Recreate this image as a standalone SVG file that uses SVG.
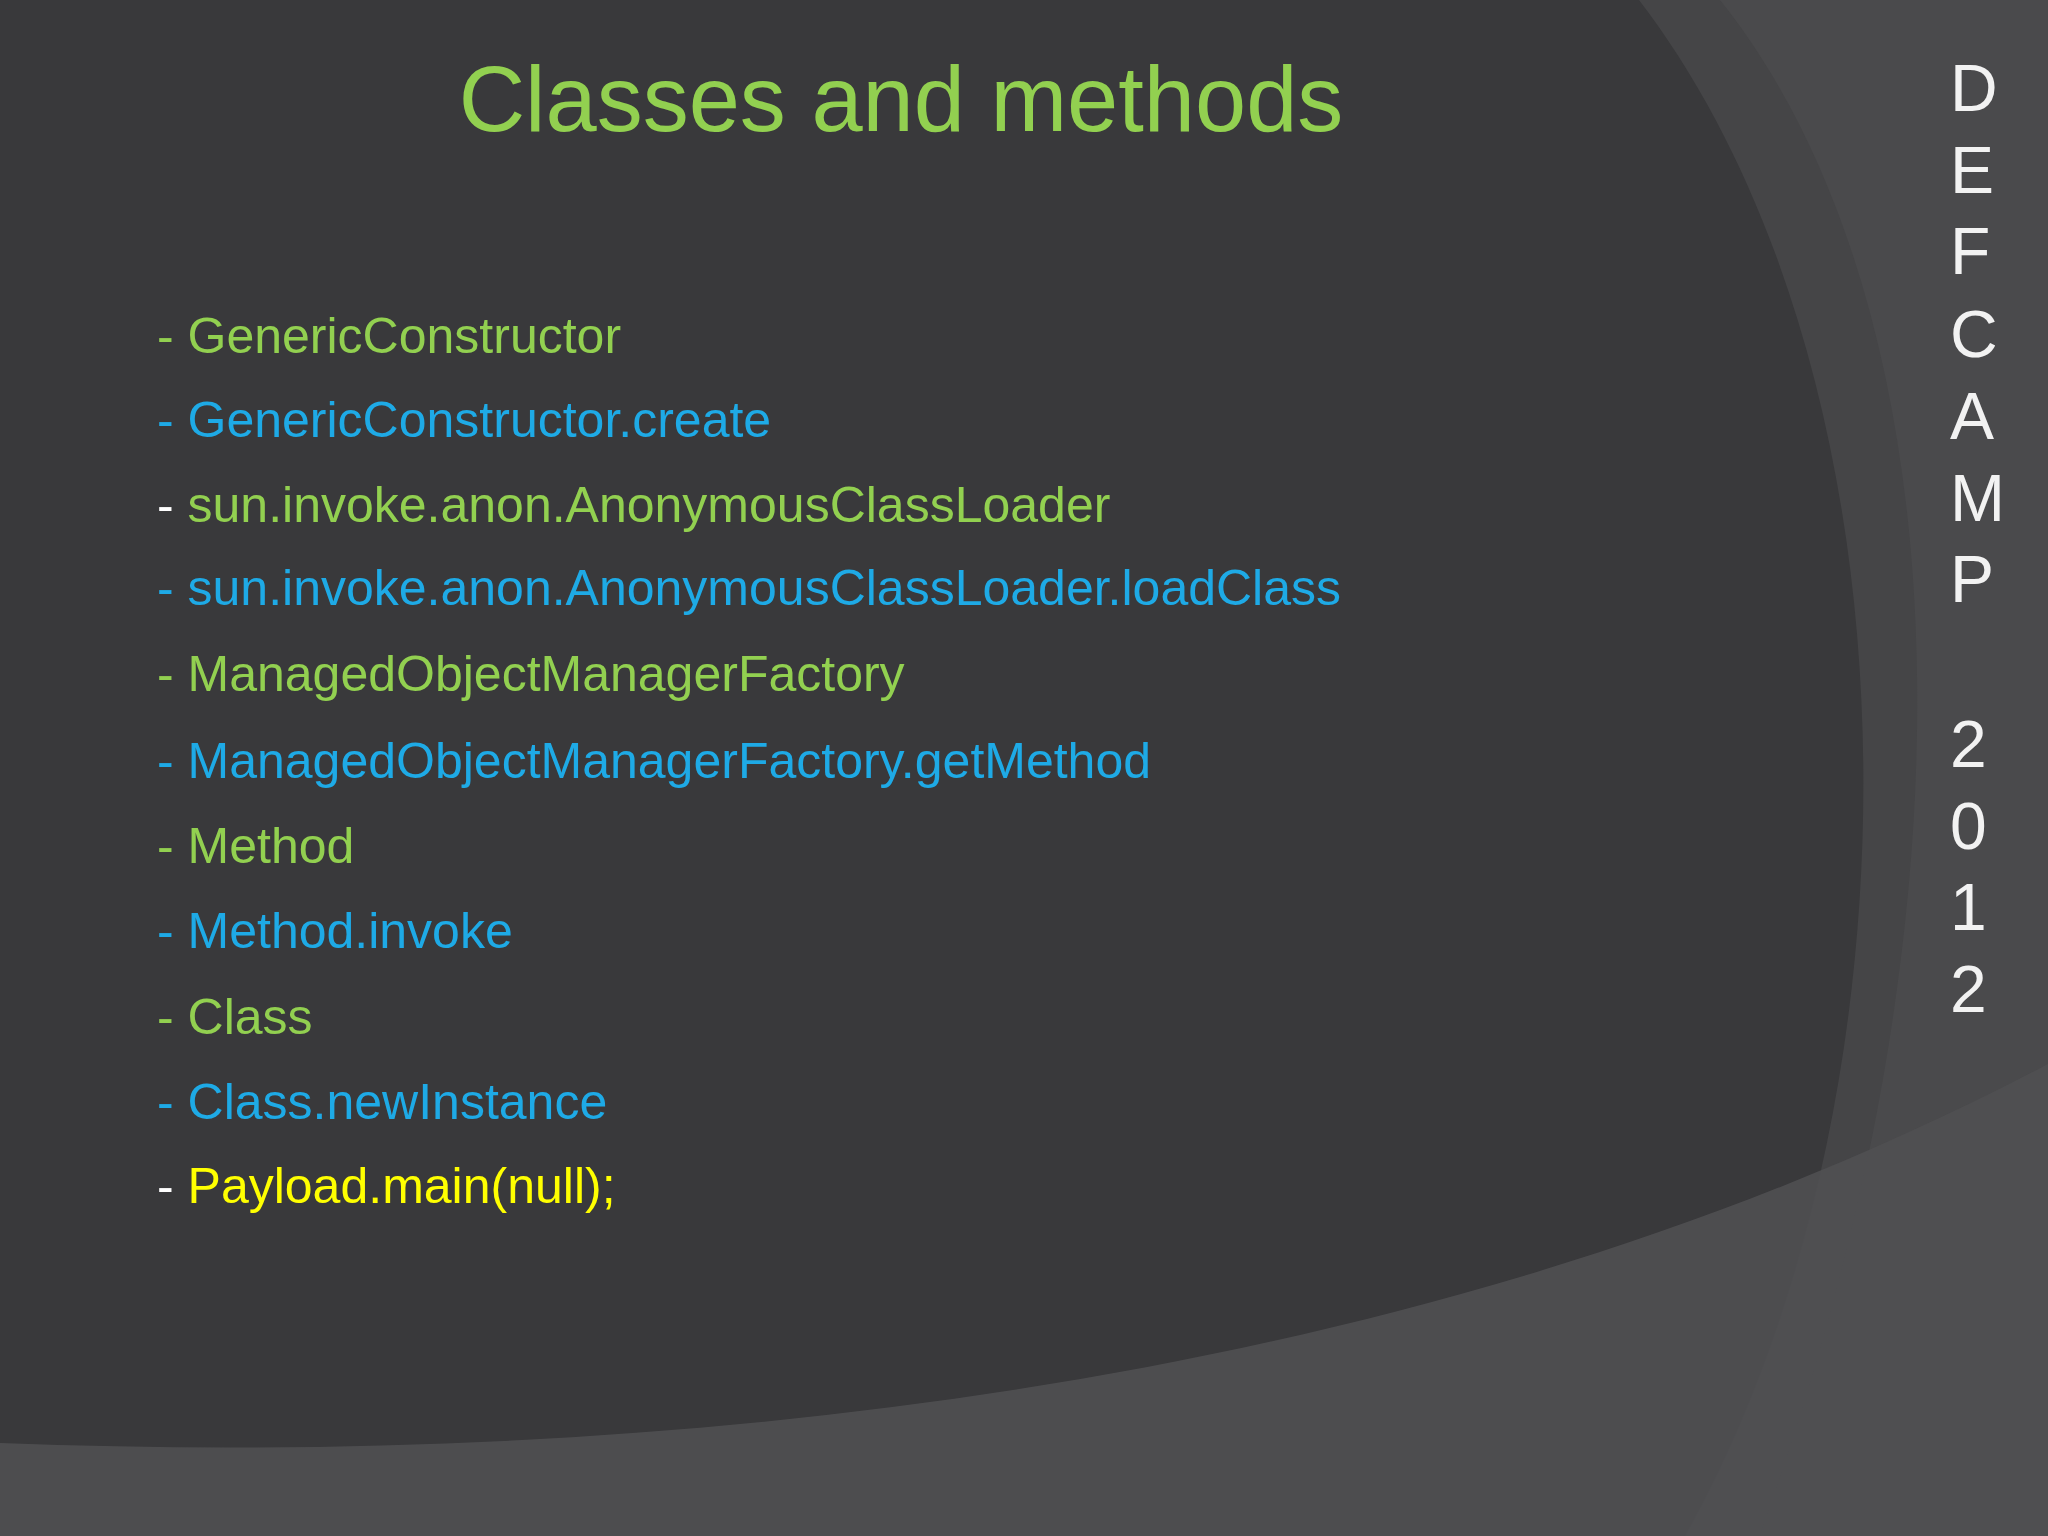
<svg xmlns="http://www.w3.org/2000/svg" width="2048" height="1536" viewBox="0 0 2048 1536">
<style>
.t{font-family:"Liberation Sans",Arial,sans-serif;font-size:50px}
.g{fill:#92d050}.b{fill:#1eaae6}.y{fill:#ffff00}.w{fill:#ffffff}
.r{font-family:"Liberation Sans",Arial,sans-serif;font-size:66px;fill:#f2f2f2}
</style>
<rect width="2048" height="1536" fill="#39393b"/>
<path d="M1639,0 C1930,380 1930,1100 1685,1536 L2048,1536 L2048,0 Z" fill="#454547"/>
<path d="M1720,0 C1960,300 1990,900 1760,1536 L2048,1536 L2048,0 Z" fill="#4a4a4c"/>
<path d="M0,1443 C700,1470 1450,1380 2048,1064 L2048,1536 L0,1536 Z" fill="#505052" opacity="0.9"/>
<g id="title"><text x="901" y="131" text-anchor="middle" font-family="Liberation Sans,Arial,sans-serif" font-size="92" fill="#92d050">Classes and methods</text></g>
<g id="list" class="t">
<text x="157" y="353" class="g">- GenericConstructor</text>
<text x="157" y="437" class="b">- GenericConstructor.create</text>
<text x="157" y="522"><tspan class="w">- </tspan><tspan class="g">sun.invoke.anon.AnonymousClassLoader</tspan></text>
<text x="157" y="605" class="b">- sun.invoke.anon.AnonymousClassLoader.loadClass</text>
<text x="157" y="691" class="g">- ManagedObjectManagerFactory</text>
<text x="157" y="778" class="b">- ManagedObjectManagerFactory.getMethod</text>
<text x="157" y="863" class="g">- Method</text>
<text x="157" y="948" class="b">- Method.invoke</text>
<text x="157" y="1034" class="g">- Class</text>
<text x="157" y="1119" class="b">- Class.newInstance</text>
<text x="157" y="1203"><tspan class="w">- </tspan><tspan class="y">Payload.main(null);</tspan></text>
</g>
<g id="side" class="r">
<text x="1950" y="111">D</text><text x="1950" y="193">E</text><text x="1950" y="274">F</text><text x="1950" y="357">C</text><text x="1950" y="439">A</text><text x="1950" y="521">M</text><text x="1950" y="602">P</text>
<text x="1950" y="767">2</text><text x="1950" y="849">0</text><text x="1950" y="930">1</text><text x="1950" y="1012">2</text>
</g>
</svg>
